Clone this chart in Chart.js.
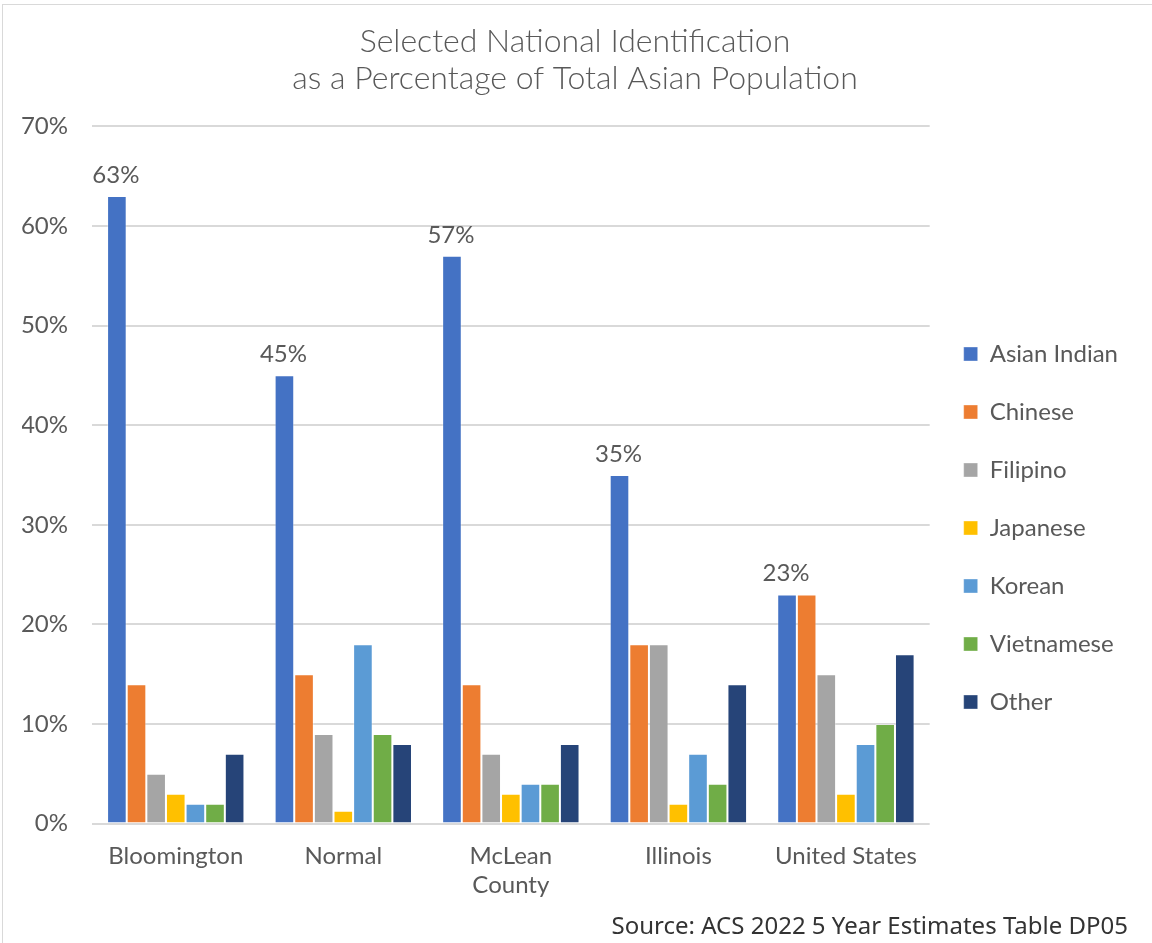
<!DOCTYPE html>
<html>
<head>
<meta charset="utf-8">
<script src="https://cdn.jsdelivr.net/npm/chart.js@4.4.0/dist/chart.umd.min.js"></script>
<style>
  html, body { margin: 0; padding: 0; background: #fff; }
  #marco {
    position: absolute; left: 2px; top: 4px; width: 1160px; height: 950px;
    border: 1px solid #d9d9d9; box-sizing: border-box;
  }
  #lienzo { position: absolute; left: 0; top: 0; width: 1152px; height: 943px; }
</style>
</head>
<body>
<div id="marco"></div>
<div id="lienzo"><canvas id="grafico"></canvas></div>
<script>
// ===== DATOS =====
const lugares = ["Bloomington", "Normal", ["McLean", "County"], "Illinois", "United States"];
const asianIndian = [63, 45, 57, 35, 23];
const chinese     = [14, 15, 14, 18, 23];
const filipino    = [5, 9, 7, 18, 15];
const japanese    = [3, 1.3, 3, 2, 3];
const korean      = [2, 18, 4, 7, 8];
const vietnamese  = [2, 9, 4, 4, 10];
const other       = [7, 8, 8, 14, 17];
const ticksY = [0, 10, 20, 30, 40, 50, 60, 70];

const series = [
  { label: "Asian Indian", data: asianIndian, color: "#4472C4" },
  { label: "Chinese",      data: chinese,     color: "#ED7D31" },
  { label: "Filipino",     data: filipino,    color: "#A5A5A5" },
  { label: "Japanese",     data: japanese,    color: "#FFC000" },
  { label: "Korean",       data: korean,      color: "#5B9BD5" },
  { label: "Vietnamese",   data: vietnamese,  color: "#70AD47" },
  { label: "Other",        data: other,       color: "#264478" }
];

const GRIS = "#595959";
const FUENTE = "Lato, 'Open Sans', sans-serif";

// etiquetas solo sobre la primera serie
const etiquetasPlugin = {
  id: "etiquetas",
  afterDatasetsDraw(chart) {
    const ctx = chart.ctx;
    const meta = chart.getDatasetMeta(0);
    ctx.save();
    ctx.font = "24px " + FUENTE;
    ctx.fillStyle = GRIS;
    ctx.textAlign = "center";
    ctx.textBaseline = "bottom";
    meta.data.forEach((bar, i) => {
      ctx.fillText(asianIndian[i] + "%", bar.x - 1, bar.y - 9);
    });
    ctx.restore();
  }
};

new Chart(document.getElementById("grafico"), {
  type: "bar",
  data: {
    labels: lugares,
    datasets: series.map(s => ({
      label: s.label,
      data: s.data,
      backgroundColor: s.color,
      borderColor: "rgba(255,255,255,0.35)",
      borderWidth: 1,
      categoryPercentage: 0.82,
      barPercentage: 1.0
    }))
  },
  options: {
    responsive: true,
    maintainAspectRatio: false,
    animation: false,
    layout: { padding: { left: 22, right: 24, top: 24, bottom: 1 } },
    plugins: {
      title: {
        display: true,
        text: ["Selected National Identification", "as a Percentage of Total Asian Population"],
        font: { family: FUENTE, size: 32, weight: "300", lineHeight: 1.13 },
        color: GRIS,
        padding: { top: 0, bottom: 30 }
      },
      subtitle: {
        display: true,
        position: "bottom",
        align: "end",
        text: "Source: ACS 2022 5 Year Estimates Table DP05",
        font: { family: "'Noto Sans', sans-serif", size: 24 },
        color: "#333",
        padding: { top: 4, bottom: 0 }
      },
      legend: {
        position: "right",
        title: { display: true, text: " ", font: { size: 10, lineHeight: 1 }, padding: { top: 40, bottom: 40 } },
        labels: {
          font: { family: FUENTE, size: 24 },
          color: GRIS,
          boxWidth: 14,
          boxHeight: 14,
          padding: 34
        }
      },
      tooltip: { enabled: false }
    },
    scales: {
      x: {
        grid: { display: false },
        border: { display: false },
        ticks: { font: { family: FUENTE, size: 24 }, color: GRIS, padding: 10 }
      },
      y: {
        min: 0,
        max: 70,
        afterBuildTicks: axis => { axis.ticks = ticksY.map(v => ({ value: v })); },
        afterFit: axis => { axis.width = 70; },
        grid: { color: "#d9d9d9", lineWidth: 2, drawTicks: false },
        border: { display: false },
        ticks: {
          font: { family: FUENTE, size: 24 },
          color: GRIS,
          padding: 24,
          callback: v => v + "%"
        }
      }
    }
  },
  plugins: [etiquetasPlugin]
});
</script>
</body>
</html>
